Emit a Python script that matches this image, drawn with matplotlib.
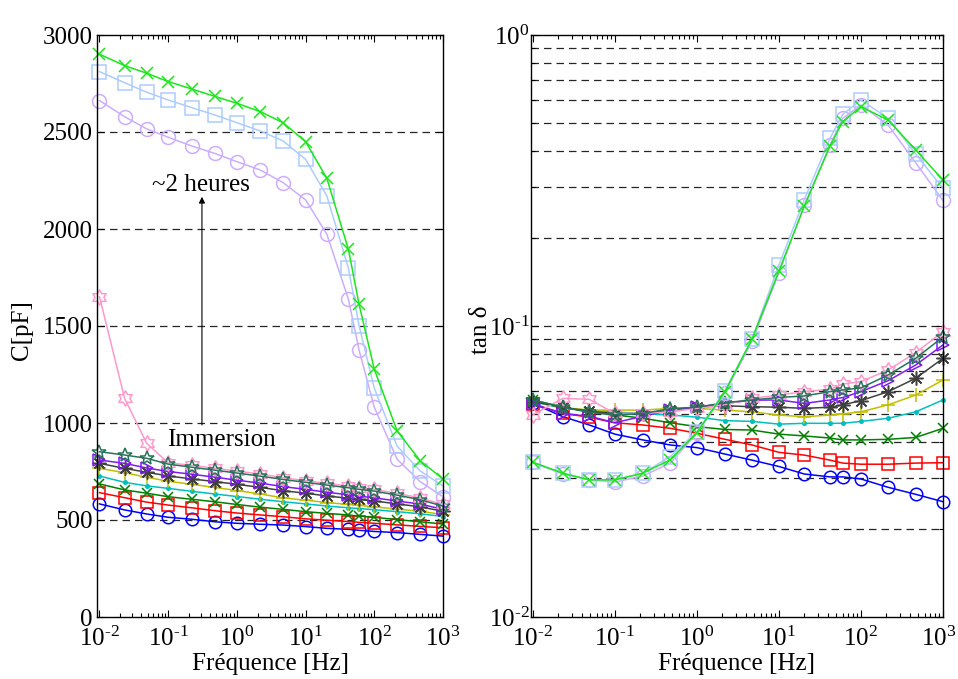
import numpy as np
import matplotlib
matplotlib.use("Agg")
import matplotlib.pyplot as plt
import matplotlib.transforms as mtransforms
from matplotlib.ticker import LogLocator, FixedLocator, NullFormatter, FuncFormatter
from matplotlib.path import Path

plt.rcParams['font.family'] = ['Liberation Serif', 'DejaVu Serif']
plt.rcParams['mathtext.fontset'] = 'custom'
plt.rcParams['mathtext.rm'] = 'Liberation Serif'
plt.rcParams['mathtext.it'] = 'Liberation Serif:italic'
plt.rcParams['mathtext.bf'] = 'Liberation Serif:bold'

# ---------------- data ----------------
freq = [0.01, 0.0232, 0.0487, 0.1, 0.219, 0.474, 1.0, 2.2, 4.7, 10.0,
        20.4, 42.0, 60.0, 100.0, 215.0, 464.0, 1000.0]

# capacitance C [pF]
C_blue   = [583, 552, 531, 514, 504, 491, 483, 478, 474, 466, 457, 452, 447, 441, 435, 426, 417]
C_red    = [641, 615, 592, 577, 563, 548, 536, 526, 517, 506, 499, 492, 488, 483, 475, 467, 460]
C_dgreen = [686, 655, 638, 620, 607, 594, 580, 566, 555, 543, 534, 526, 520, 514, 502, 491, 479]
C_cyan   = [727, 694, 676, 663, 648, 634, 621, 607, 594, 583, 572, 563, 559, 553, 543, 532, 518]
C_yellow = [766, 744, 720, 700, 684, 668, 652, 634, 614, 602, 590, 580, 575, 568, 556, 545, 528]
C_gray   = [792, 766, 746, 727, 712, 698, 684, 668, 651, 638, 624, 612, 606, 598, 583, 568, 545]
C_purple = [809, 792, 768, 750, 736, 721, 705, 690, 672, 658, 643, 630, 623, 614, 598, 582, 555]
C_teal   = [852, 835, 818, 788, 772, 757, 742, 726, 709, 694, 680, 666, 658, 649, 628, 605, 571]
C_pink   = [1651, 1127, 895, 795, 782, 767, 752, 737, 718, 703, 689, 675, 667, 658, 637, 614, 580]
C_lpurp  = [2662, 2579, 2516, 2473, 2428, 2390, 2347, 2304, 2239, 2150, 1973, 1638, 1376, 1081, 813, 698, 620]
C_lblue  = [2811, 2754, 2705, 2665, 2626, 2588, 2548, 2505, 2454, 2359, 2170, 1798, 1502, 1179, 881, 753, 675]
C_green  = [2901, 2842, 2803, 2760, 2722, 2684, 2648, 2605, 2548, 2450, 2261, 1895, 1612, 1277, 959, 806, 711]

# loss tangent tan(delta)
T_blue   = [0.0542, 0.0488, 0.0457, 0.0425, 0.0406, 0.0390, 0.0382, 0.0363, 0.0346, 0.0329, 0.0310, 0.0303, 0.0303, 0.0298, 0.0279, 0.0264, 0.0249]
T_red    = [0.0540, 0.0501, 0.0486, 0.0465, 0.0457, 0.0445, 0.0428, 0.0408, 0.0390, 0.0368, 0.0360, 0.0346, 0.0338, 0.0335, 0.0335, 0.0338, 0.0339]
T_dgreen = [0.0557, 0.0526, 0.0507, 0.0495, 0.0482, 0.0465, 0.0451, 0.0441, 0.0439, 0.0425, 0.0419, 0.0412, 0.0406, 0.0406, 0.0408, 0.0414, 0.0445]
T_cyan   = [0.0550, 0.0521, 0.0514, 0.0507, 0.0499, 0.0495, 0.0486, 0.0473, 0.0470, 0.0460, 0.0463, 0.0463, 0.0463, 0.0470, 0.0482, 0.0507, 0.0557]
T_yellow = [0.0550, 0.0525, 0.0514, 0.0514, 0.0514, 0.0521, 0.0521, 0.0514, 0.0507, 0.0494, 0.0488, 0.0494, 0.0499, 0.0507, 0.0536, 0.0579, 0.0652]
T_gray   = [0.0550, 0.0525, 0.0510, 0.0500, 0.0500, 0.0514, 0.0526, 0.0532, 0.0528, 0.0526, 0.0521, 0.0526, 0.0536, 0.0554, 0.0595, 0.0661, 0.0774]
T_purple = [0.0540, 0.0500, 0.0490, 0.0465, 0.0490, 0.0514, 0.0526, 0.0542, 0.0556, 0.0557, 0.0542, 0.0557, 0.0568, 0.0595, 0.0649, 0.0734, 0.0861]
T_teal   = [0.0557, 0.0526, 0.0505, 0.0495, 0.0500, 0.0520, 0.0526, 0.0545, 0.0557, 0.0568, 0.0575, 0.0595, 0.0603, 0.0613, 0.0679, 0.0774, 0.0917]
T_pink   = [0.0495, 0.0564, 0.0560, 0.0501, 0.0501, 0.0507, 0.0521, 0.0536, 0.0564, 0.0579, 0.0595, 0.0606, 0.0632, 0.0644, 0.0706, 0.0810, 0.0956]
T_lpurp  = [0.0340, 0.0310, 0.0296, 0.0291, 0.0305, 0.0338, 0.0428, 0.0590, 0.0885, 0.152, 0.260, 0.419, 0.517, 0.575, 0.490, 0.364, 0.270]
T_lblue  = [0.0340, 0.0312, 0.0296, 0.0296, 0.0312, 0.0356, 0.0433, 0.0600, 0.0905, 0.162, 0.272, 0.442, 0.534, 0.598, 0.517, 0.390, 0.297]
T_green  = [0.0340, 0.0312, 0.0296, 0.0296, 0.0312, 0.0347, 0.0430, 0.0595, 0.0902, 0.1545, 0.258, 0.416, 0.504, 0.567, 0.510, 0.403, 0.317]

C_ticks = [0, 500, 1000, 1500, 2000, 2500, 3000]

# ---------------- styles ----------------
def hexagram():
    verts = []
    for k in range(12):
        ang = np.pi / 2 + k * np.pi / 6
        r = 1.0 if k % 2 == 0 else 1 / np.sqrt(3)
        verts.append((r * np.cos(ang), r * np.sin(ang)))
    verts.append(verts[0])
    codes = [Path.MOVETO] + [Path.LINETO] * 11 + [Path.CLOSEPOLY]
    return Path(verts, codes)

HEX = hexagram()

series = [
    # (C, T, color, marker, ms)
    (C_blue,   T_blue,   (0, 0, 1),          'o', 9),
    (C_red,    T_red,    (1, 0, 0),          's', 9),
    (C_dgreen, T_dgreen, (0, 0.5, 0),        'x', 7),
    (C_cyan,   T_cyan,   (0, 0.75, 0.75),    '.', 5),
    (C_yellow, T_yellow, (0.75, 0.75, 0),    '+', 10),
    (C_gray,   T_gray,   (0.25, 0.25, 0.25), (8, 2, 0), 10),
    (C_purple, T_purple, (0.5, 0.1, 0.95),   '>', 9),
    (C_pink,   T_pink,   (1, 0.6, 0.8),      HEX, 11),
    (C_teal,   T_teal,   (0.15, 0.45, 0.35), '*', 10),
    (C_lpurp,  T_lpurp,  (0.8, 0.68, 1.0),   'o', 10),
    (C_lblue,  T_lblue,  (0.68, 0.8, 1.0),   's', 10),
    (C_green,  T_green,  (0.1, 0.9, 0.1),    'x', 8),
]

fig = plt.figure(figsize=(9.58, 6.79), dpi=100)
axL = fig.add_axes([97 / 958, 62 / 679, 346 / 958, 582 / 679])
axR = fig.add_axes([531 / 958, 62 / 679, 412 / 958, 582 / 679])

for C, T, col, mk, ms in series:
    kw = dict(color=col, marker=mk, markersize=ms, linewidth=1.1,
              markeredgewidth=1.1, clip_on=False)
    if mk != '.':
        kw['markerfacecolor'] = 'none'
    axL.plot(freq, C, **kw)
    axR.plot(freq, T, **kw)

# ---------------- left axes ----------------
axL.set_xscale('log')
axL.set_xlim(0.0092, 1000)
axL.set_ylim(0, 3000)
axL.yaxis.set_major_locator(FixedLocator(C_ticks))
for v in C_ticks[1:-1]:
    axL.axhline(v, color='0.15', lw=0.9, ls=(0, (6, 4)), zorder=0)

# ---------------- right axes ----------------
axR.set_xscale('log')
axR.set_yscale('log')
axR.set_xlim(0.0095, 1000)
axR.set_ylim(0.01, 1)
for dec in [0.01, 0.1]:
    for m in range(2, 10):
        axR.axhline(dec * m, color='0.15', lw=0.9, ls=(0, (6, 4)), zorder=0)
axR.axhline(0.1, color='0.15', lw=0.9, ls=(0, (6, 4)), zorder=0)


def pow_fmt(v, pos):
    e = int(round(np.log10(v)))
    if e < 0:
        return r'$10^{\text{-}%d}$' % (-e)
    return r'$10^{%d}$' % e


for ax in (axL, axR):
    ax.xaxis.set_major_locator(LogLocator(base=10, numticks=10))
    ax.xaxis.set_minor_locator(LogLocator(base=10, subs=np.arange(2, 10), numticks=10))
    ax.xaxis.set_minor_formatter(NullFormatter())
    ax.xaxis.set_major_formatter(FuncFormatter(pow_fmt))
    ax.tick_params(which='both', direction='in', top=True, right=True,
                   labelsize=18, width=0.8)
    ax.tick_params(axis='x', which='major', pad=7)
    ax.tick_params(axis='y', which='major', pad=3)
    ax.tick_params(which='major', length=5)
    ax.tick_params(which='minor', length=3)
    for s in ax.spines.values():
        s.set_linewidth(1.0)
axR.yaxis.set_major_locator(LogLocator(base=10, numticks=5))
axR.yaxis.set_minor_locator(LogLocator(base=10, subs=np.arange(2, 10), numticks=5))
axR.yaxis.set_minor_formatter(NullFormatter())
axR.yaxis.set_major_formatter(FuncFormatter(pow_fmt))
axR.tick_params(axis='y', which='major', pad=1)

# labels
fig.text(270 / 958, 1 - 664 / 679, 'Fréquence [Hz]', ha='center', va='center', fontsize=18)
fig.text(737 / 958, 1 - 664 / 679, 'Fréquence [Hz]', ha='center', va='center', fontsize=18)
fig.text(22 / 958, 1 - 330 / 679, 'C[pF]', ha='center', va='center', rotation=90, fontsize=18)
fig.text(481 / 958, 1 - 330 / 679, 'tan δ', ha='center', va='center', rotation=90, fontsize=18)

# annotations
axL.text(0.296, 2227, '~2 heures', ha='center', va='center', fontsize=18)
axL.text(0.59, 912, 'Immersion', ha='center', va='center', fontsize=18)
axL.annotate('', xy=(0.31, 2166), xytext=(0.31, 990),
             arrowprops=dict(arrowstyle='-|>', color='k', lw=0.8, mutation_scale=9,
                             shrinkA=0, shrinkB=0))

# nudge the last x tick label of the right axes so it stays inside the figure
fig.canvas.draw()
shift = mtransforms.ScaledTranslation(-4 / 100, 0, fig.dpi_scale_trans)
for tick in axR.xaxis.get_major_ticks():
    if abs(tick.get_loc() - 1000) < 1e-6:
        tick.label1.set_transform(tick.label1.get_transform() + shift)

fig.savefig('out.png', dpi=100)
